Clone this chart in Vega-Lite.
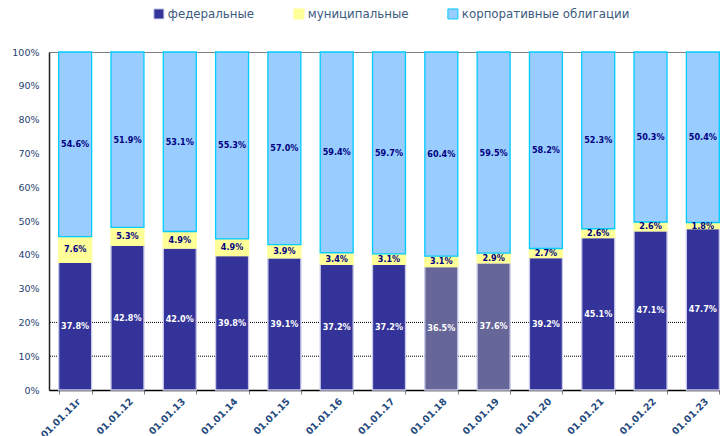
{
  "$schema": "https://vega.github.io/schema/vega-lite/v6.json",
  "width": 680,
  "height": 338,
  "autosize": {"type": "none"},
  "padding": {"left": 49, "top": 52, "right": 0, "bottom": 46},
  "background": "white",
  "config": {
    "view": {"stroke": "#808080", "strokeWidth": 1},
    "font": "DejaVu Sans",
    "axisY": {
      "title": null,
      "values": [0, 0.1, 0.2, 0.3, 0.4, 0.5, 0.6, 0.7, 0.8, 0.9, 1],
      "format": ".0%",
      "labelFont": "DejaVu Sans",
      "labelFontSize": 9.5,
      "labelColor": "#1F3F6F",
      "labelPadding": 10,
      "labelOverlap": false,
      "ticks": false,
      "domainColor": "#222222",
      "domainWidth": 1.5,
      "grid": false
    }
  },
  "datasets": {
    "shares": [
      {"date": "01.01.11г", "series": "федеральные", "ord": 1, "value": 37.8, "hl": false},
      {"date": "01.01.11г", "series": "муниципальные", "ord": 2, "value": 7.6, "hl": false},
      {"date": "01.01.11г", "series": "корпоративные облигации", "ord": 3, "value": 54.6, "hl": false},
      {"date": "01.01.12", "series": "федеральные", "ord": 1, "value": 42.8, "hl": false},
      {"date": "01.01.12", "series": "муниципальные", "ord": 2, "value": 5.3, "hl": false},
      {"date": "01.01.12", "series": "корпоративные облигации", "ord": 3, "value": 51.9, "hl": false},
      {"date": "01.01.13", "series": "федеральные", "ord": 1, "value": 42.0, "hl": false},
      {"date": "01.01.13", "series": "муниципальные", "ord": 2, "value": 4.9, "hl": false},
      {"date": "01.01.13", "series": "корпоративные облигации", "ord": 3, "value": 53.1, "hl": false},
      {"date": "01.01.14", "series": "федеральные", "ord": 1, "value": 39.8, "hl": false},
      {"date": "01.01.14", "series": "муниципальные", "ord": 2, "value": 4.9, "hl": false},
      {"date": "01.01.14", "series": "корпоративные облигации", "ord": 3, "value": 55.3, "hl": false},
      {"date": "01.01.15", "series": "федеральные", "ord": 1, "value": 39.1, "hl": false},
      {"date": "01.01.15", "series": "муниципальные", "ord": 2, "value": 3.9, "hl": false},
      {"date": "01.01.15", "series": "корпоративные облигации", "ord": 3, "value": 57.0, "hl": false},
      {"date": "01.01.16", "series": "федеральные", "ord": 1, "value": 37.2, "hl": false},
      {"date": "01.01.16", "series": "муниципальные", "ord": 2, "value": 3.4, "hl": false},
      {"date": "01.01.16", "series": "корпоративные облигации", "ord": 3, "value": 59.4, "hl": false},
      {"date": "01.01.17", "series": "федеральные", "ord": 1, "value": 37.2, "hl": false},
      {"date": "01.01.17", "series": "муниципальные", "ord": 2, "value": 3.1, "hl": false},
      {"date": "01.01.17", "series": "корпоративные облигации", "ord": 3, "value": 59.7, "hl": false},
      {"date": "01.01.18", "series": "федеральные", "ord": 1, "value": 36.5, "hl": true},
      {"date": "01.01.18", "series": "муниципальные", "ord": 2, "value": 3.1, "hl": false},
      {"date": "01.01.18", "series": "корпоративные облигации", "ord": 3, "value": 60.4, "hl": false},
      {"date": "01.01.19", "series": "федеральные", "ord": 1, "value": 37.6, "hl": true},
      {"date": "01.01.19", "series": "муниципальные", "ord": 2, "value": 2.9, "hl": false},
      {"date": "01.01.19", "series": "корпоративные облигации", "ord": 3, "value": 59.5, "hl": false},
      {"date": "01.01.20", "series": "федеральные", "ord": 1, "value": 39.2, "hl": false},
      {"date": "01.01.20", "series": "муниципальные", "ord": 2, "value": 2.7, "hl": false},
      {"date": "01.01.20", "series": "корпоративные облигации", "ord": 3, "value": 58.2, "hl": false},
      {"date": "01.01.21", "series": "федеральные", "ord": 1, "value": 45.1, "hl": false},
      {"date": "01.01.21", "series": "муниципальные", "ord": 2, "value": 2.6, "hl": false},
      {"date": "01.01.21", "series": "корпоративные облигации", "ord": 3, "value": 52.3, "hl": false},
      {"date": "01.01.22", "series": "федеральные", "ord": 1, "value": 47.1, "hl": false},
      {"date": "01.01.22", "series": "муниципальные", "ord": 2, "value": 2.6, "hl": false},
      {"date": "01.01.22", "series": "корпоративные облигации", "ord": 3, "value": 50.3, "hl": false},
      {"date": "01.01.23", "series": "федеральные", "ord": 1, "value": 47.7, "hl": false},
      {"date": "01.01.23", "series": "муниципальные", "ord": 2, "value": 1.8, "hl": false},
      {"date": "01.01.23", "series": "корпоративные облигации", "ord": 3, "value": 50.4, "hl": false}
    ],
    "gridlines": [
      {"g": 0.1},
      {"g": 0.2}
    ]
  },
  "layer": [
    {
      "data": {"name": "gridlines"},
      "mark": {"type": "rule", "color": "#000000", "strokeWidth": 1, "strokeDash": [1, 1]},
      "encoding": {
        "y": {"field": "g", "type": "quantitative", "scale": {"domain": [0, 1], "nice": false}}
      }
    },
    {
      "data": {"name": "shares"},
      "transform": [
        {"stack": "value", "groupby": ["date"], "sort": [{"field": "ord", "order": "ascending"}], "as": ["v0", "v1"], "offset": "normalize"},
        {"calculate": "(datum.v0 + datum.v1) / 2", "as": "mid"},
        {"calculate": "format(datum.value, '.1f') + '%'", "as": "label"}
      ],
      "encoding": {
        "x": {
          "field": "date",
          "type": "nominal",
          "sort": null,
          "scale": {"paddingInner": 0.37, "paddingOuter": 0.185},
          "axis": {
            "title": null,
            "labelAngle": -45,
            "labelAlign": "right",
            "labelBaseline": "top",
            "labelFont": "DejaVu Sans",
            "labelFontSize": 9.5,
            "labelFontWeight": "bold",
            "labelColor": "#1F497D",
            "labelPadding": 2,
            "labelOverlap": false,
            "tickBand": "extent",
            "tickColor": "#808080",
            "tickSize": 4,
            "domainColor": "#000000",
            "domainWidth": 1.5,
            "grid": false
          }
        }
      },
      "layer": [
        {
          "mark": {"type": "bar", "strokeWidth": 1.3},
          "encoding": {
            "y": {"field": "v0", "type": "quantitative"},
            "y2": {"field": "v1"},
            "color": {
              "condition": {"test": "datum.hl", "value": "#666699"},
              "field": "series",
              "type": "nominal",
              "sort": ["федеральные", "муниципальные", "корпоративные облигации"],
              "scale": {
                "domain": ["федеральные", "муниципальные", "корпоративные облигации"],
                "range": ["#333399", "#FFFF99", "#99CCFF"]
              },
              "legend": {
                "title": null,
                "orient": "none",
                "direction": "horizontal",
                "legendX": 104,
                "legendY": -44,
                "symbolType": "square",
                "symbolSize": 100,
                "symbolStrokeWidth": 1,
                "labelFont": "DejaVu Sans",
                "labelFontSize": 11.8,
                "labelColor": "#3B5A80",
                "labelLimit": 400,
                "columnPadding": 36,
                "labelOffset": 3
              }
            },
            "stroke": {
              "field": "series",
              "type": "nominal",
              "scale": {
                "domain": ["федеральные", "муниципальные", "корпоративные облигации"],
                "range": ["#C8C8E8", "#FFFF99", "#00CCFF"]
              },
              "legend": null
            }
          }
        },
        {
          "mark": {"type": "text", "font": "DejaVu Sans Condensed", "fontSize": 9, "fontWeight": "bold", "baseline": "middle", "align": "center"},
          "encoding": {
            "y": {"field": "mid", "type": "quantitative"},
            "text": {"field": "label"},
            "color": {
              "condition": {"test": "datum.series === 'федеральные'", "value": "#FFFFFF"},
              "value": "#000080"
            }
          }
        }
      ]
    }
  ]
}
